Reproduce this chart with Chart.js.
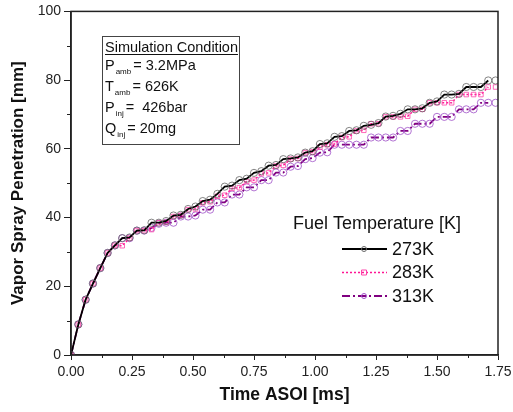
<!DOCTYPE html>
<html>
<head>
<meta charset="utf-8">
<script src="https://cdn.jsdelivr.net/npm/chart.js@4.4.0/dist/chart.umd.min.js"></script>
<style>
  body { margin: 0; background: #fff; }
</style>
</head>
<body>
<canvas id="myChart" width="513" height="412"></canvas>
<script>
// time after start of injection [ms]
var times = [0, 0.03, 0.06, 0.09, 0.12, 0.15, 0.18, 0.21, 0.24, 0.27,
    0.30, 0.33, 0.36, 0.39, 0.42, 0.45, 0.48, 0.51, 0.54, 0.57,
    0.60, 0.63, 0.66, 0.69, 0.72, 0.75, 0.78, 0.81, 0.84, 0.87,
    0.90, 0.93, 0.96, 0.99, 1.02, 1.05, 1.08, 1.11, 1.14, 1.17,
    1.20, 1.23, 1.26, 1.29, 1.32, 1.35, 1.38, 1.41, 1.44, 1.47,
    1.50, 1.53, 1.56, 1.59, 1.62, 1.65, 1.68, 1.71, 1.74];

// vapor penetration [mm]
var temp273 = [0, 8.9, 16.1, 20.8, 25.3, 29.7, 31.9, 34.0, 34.2, 36.2,
    36.3, 38.5, 38.5, 39.0, 40.6, 40.8, 42.5, 43.2, 44.8, 45.2,
    46.9, 49.0, 49.3, 50.9, 51.3, 53.0, 53.5, 55.1, 55.3, 57.0,
    57.2, 57.5, 58.9, 59.3, 61.4, 61.6, 63.5, 63.7, 65.2, 65.4,
    66.7, 67.0, 67.5, 69.4, 69.6, 70.2, 71.5, 71.5, 71.8, 73.4,
    73.8, 75.8, 75.8, 76.0, 78.0, 78.0, 78.0, 79.9, 79.9];
var temp283 = [0, 8.9, 16.1, 20.8, 25.3, 29.7, 31.9, 31.8, 34.0, 36.2,
    36.2, 36.5, 38.5, 38.6, 40.3, 40.6, 42.3, 42.5, 44.3, 44.6,
    46.2, 46.5, 48.5, 48.7, 50.5, 50.9, 52.8, 53.0, 55.0, 55.2,
    57.0, 57.2, 58.9, 59.1, 60.5, 61.2, 61.4, 63.3, 63.5, 65.2,
    65.4, 67.3, 67.3, 69.3, 69.3, 69.3, 69.5, 71.5, 71.5, 73.4,
    73.4, 73.4, 73.4, 75.8, 75.8, 75.8, 75.8, 78.0, 78.0];
var temp313 = [0, 8.9, 16.1, 20.8, 25.3, 29.7, 31.9, 34.0, 34.0, 36.2,
    36.2, 37.0, 38.2, 38.5, 38.5, 40.3, 40.3, 40.6, 42.3, 42.3,
    44.4, 44.4, 46.7, 46.7, 48.8, 48.8, 50.9, 50.9, 53.1, 53.1,
    54.8, 55.0, 57.0, 57.3, 58.9, 59.0, 61.2, 61.2, 61.2, 61.2,
    61.2, 63.3, 63.3, 63.3, 63.3, 65.2, 65.2, 67.3, 67.3, 67.3,
    69.3, 69.3, 69.3, 71.5, 71.5, 71.5, 73.4, 73.4, 73.4];

var seriesLabels = ['273K', '283K', '313K'];
var xMinorTicks = [0.125, 0.375, 0.625, 0.875, 1.125, 1.375, 1.625];
var yMinorTicks = [10, 30, 50, 70, 90];

var conditionTitle = 'Simulation Condition';
var conditions = [
    ['P', 'amb', '= 3.2MPa'],
    ['T', 'amb', '= 626K'],
    ['P', 'inj', '=  426bar'],
    ['Q', 'inj', '= 20mg']
];
var legendTitle = 'Fuel Temperature [K]';

var FONT = '"Liberation Sans", Arial, sans-serif';
var last = times.length - 1;

function pts(vals) {
    return times.map(function (t, i) { return { x: t, y: vals[i] }; });
}
// the last sample is drawn as a lone marker, without a connecting line
var hideLast = {
    borderColor: function (c) { return c.p1DataIndex === last ? 'rgba(0,0,0,0)' : undefined; }
};

var frame = {
    id: 'frame',
    afterDraw: function (chart) {
        var ctx = chart.ctx, a = chart.chartArea;
        var xs = chart.scales.x, ys = chart.scales.y;
        ctx.save();
        ctx.strokeStyle = '#222';
        ctx.lineWidth = 1.5;
        ctx.strokeRect(a.left, a.top, a.right - a.left, a.bottom - a.top);
        ctx.lineWidth = 1;
        ctx.beginPath();
        xMinorTicks.forEach(function (v) {
            var px = Math.round(xs.getPixelForValue(v)) + 0.5;
            ctx.moveTo(px, a.bottom); ctx.lineTo(px, a.bottom + 3);
        });
        yMinorTicks.forEach(function (v) {
            var py = Math.round(ys.getPixelForValue(v)) + 0.5;
            ctx.moveTo(a.left, py); ctx.lineTo(a.left - 4, py);
        });
        ctx.stroke();

        // condition box
        ctx.fillStyle = '#111';
        ctx.textBaseline = 'alphabetic';
        ctx.font = '14.5px ' + FONT;
        var bx = 102, by = 36;
        ctx.fillText(conditionTitle, bx + 3, by + 16);
        var tw = ctx.measureText(conditionTitle).width;
        ctx.fillRect(bx + 3, by + 18, tw, 1);
        conditions.forEach(function (c, i) {
            var base = by + 34 + i * 21;
            ctx.font = '14.5px ' + FONT;
            ctx.fillText(c[0], bx + 3, base);
            var x = bx + 3 + ctx.measureText(c[0]).width;
            ctx.font = '8px ' + FONT;
            ctx.fillText(c[1], x + 1, base + 4);
            x += ctx.measureText(c[1]).width + 3;
            ctx.font = '14.5px ' + FONT;
            ctx.fillText(c[2], x, base);
        });
        ctx.strokeStyle = '#444';
        ctx.lineWidth = 1;
        ctx.strokeRect(bx + 0.5, by + 0.5, 137, 108);

        // legend
        ctx.font = '18px ' + FONT;
        ctx.textBaseline = 'middle';
        ctx.fillText(legendTitle, 293, 224);
        chart.data.datasets.forEach(function (ds, i) {
            var y = 249 + i * 23.5;
            ctx.strokeStyle = ds.borderColor;
            ctx.lineWidth = ds.borderWidth;
            ctx.setLineDash(ds.borderDash || []);
            ctx.beginPath();
            ctx.moveTo(342, y); ctx.lineTo(387, y);
            ctx.stroke();
            ctx.setLineDash([]);
            ctx.strokeStyle = ds.pointBorderColor;
            ctx.lineWidth = 1;
            ctx.beginPath();
            if (ds.pointStyle === 'rect') {
                ctx.rect(361.5, y - 2.5, 5, 5);
            } else {
                ctx.arc(364, y, 2.5, 0, Math.PI * 2);
            }
            ctx.stroke();
            ctx.fillStyle = '#111';
            ctx.fillText(ds.label, 392, y + 1);
        });
        ctx.restore();
    }
};

var ctx = document.getElementById('myChart').getContext('2d');
var chart = new Chart(ctx, {
    type: 'line',
    data: {
        datasets: [{
            label: seriesLabels[0],
            data: pts(temp273),
            borderColor: '#000',
            borderWidth: 1.8,
            pointStyle: 'circle',
            pointRadius: 3.6,
            pointBorderWidth: 0.8,
            pointBorderColor: '#666',
            pointBackgroundColor: 'rgba(0,0,0,0)',
            segment: hideLast
        }, {
            label: seriesLabels[1],
            data: pts(temp283),
            borderColor: '#ff1493',
            borderWidth: 1.5,
            borderDash: [2, 2],
            pointStyle: 'rect',
            pointRadius: 3.2,
            pointBorderWidth: 0.8,
            pointBorderColor: '#ff44aa',
            pointBackgroundColor: 'rgba(0,0,0,0)',
            segment: hideLast
        }, {
            label: seriesLabels[2],
            data: pts(temp313),
            borderColor: '#800080',
            borderWidth: 1.8,
            borderDash: [8, 3, 2, 3],
            pointStyle: 'circle',
            pointRadius: 3.6,
            pointBorderWidth: 0.8,
            pointBorderColor: '#a050c8',
            pointBackgroundColor: 'rgba(0,0,0,0)',
            segment: hideLast
        }]
    },
    options: {
        responsive: false,
        animation: false,
        layout: { padding: { top: 10, right: 15, left: 0, bottom: 0 } },
        plugins: { legend: { display: false }, tooltip: { enabled: false } },
        scales: {
            x: {
                type: 'linear',
                min: 0, max: 1.75,
                afterFit: function (s) { s.height = 57; s.paddingRight = 0; },
                ticks: {
                    stepSize: 0.25,
                    color: '#222',
                    font: { family: FONT, size: 14 },
                    padding: 4,
                    maxRotation: 0,
                    callback: function (v) { return v.toFixed(2); }
                },
                grid: { drawOnChartArea: false, tickLength: 5, tickColor: '#222' },
                border: { color: '#222', width: 1.5 },
                title: {
                    display: true,
                    text: 'Time ASOI [ms]',
                    color: '#111',
                    font: { family: FONT, size: 17.5, weight: 'bold' },
                    padding: { top: 4, bottom: 6 }
                }
            },
            y: {
                min: 0, max: 100,
                afterFit: function (s) { s.width = 71; },
                ticks: {
                    stepSize: 20,
                    color: '#222',
                    font: { family: FONT, size: 14 },
                    padding: 3
                },
                grid: { drawOnChartArea: false, tickLength: 7, tickColor: '#222' },
                border: { color: '#222', width: 1.5 },
                title: {
                    display: true,
                    text: 'Vapor Spray Penetration [mm]',
                    color: '#111',
                    font: { family: FONT, size: 17, weight: 'bold' },
                    padding: { top: 8, bottom: 4 }
                }
            }
        }
    },
    plugins: [frame]
});
</script>
</body>
</html>
